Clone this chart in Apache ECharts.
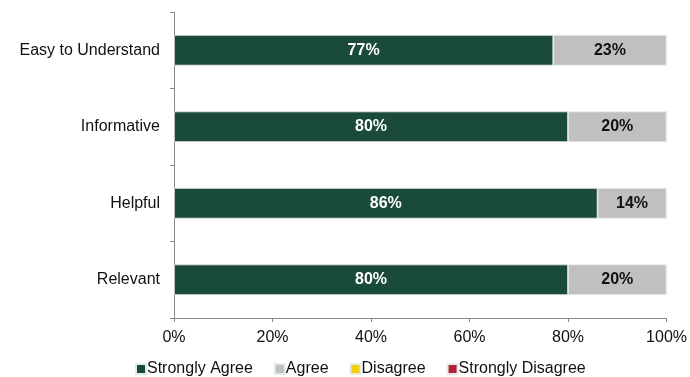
<!DOCTYPE html>
<html><head><meta charset="utf-8">
<script src="https://cdn.jsdelivr.net/npm/echarts@6/dist/echarts.min.js"></script>
<style>html,body{margin:0;padding:0;background:#fff}#c{width:690px;height:377px}</style>
</head><body><div id="c"></div>
<script>
const categories = ["Easy to Understand", "Informative", "Helpful", "Relevant"];
const seriesNames = ["Strongly Agree", "Agree", "Disagree", "Strongly Disagree"];
const stronglyAgree = [77, 80, 86, 80];
const agree = [23, 20, 14, 20];
const disagree = [0, 0, 0, 0];
const stronglyDisagree = [0, 0, 0, 0];
const xTicks = [0, 20, 40, 60, 80, 100];

const colors = ["#1a4a38", "#c0c0c0", "#f2d00f", "#b3223b"];
const labelColors = ["#ffffff", "#111111", "#111111", "#ffffff"];
const values = [stronglyAgree, agree, disagree, stronglyDisagree];

const chart = echarts.init(document.getElementById('c'));
chart.setOption({
  animation: false,
  textStyle: { fontFamily: "Liberation Sans, Arial, sans-serif" },
  grid: { left: 174, right: 22, top: 12, bottom: 59 },
  legend: {
    top: 356, left: 130, itemWidth: 10, itemHeight: 10, itemGap: 21,
    icon: 'rect',
    textStyle: { fontSize: 16, color: '#111', padding: [0, 0, 0, -4] },
    data: seriesNames
  },
  xAxis: {
    type: 'value', min: 0, max: 100, interval: 20,
    axisLine: { show: true, lineStyle: { color: '#888' } },
    axisTick: { show: true, length: 4, lineStyle: { color: '#888' } },
    splitLine: { show: false },
    axisLabel: { formatter: v => xTicks.includes(v) ? v + '%' : '', fontSize: 16, color: '#111', margin: 12 }
  },
  yAxis: {
    type: 'category', inverse: true, data: categories,
    axisLine: { show: true, lineStyle: { color: '#888' } },
    axisTick: { show: true, length: 4, lineStyle: { color: '#888' } },
    axisLabel: { fontSize: 16, color: '#111', margin: 14 }
  },
  series: seriesNames.map((n, i) => ({
    name: n, type: 'bar', stack: 'total', barWidth: '40%',
    data: values[i],
    itemStyle: { color: colors[i], borderColor: '#e4ece8', borderWidth: 0.8 },
    label: {
      show: true, position: 'inside', fontSize: 16, fontWeight: 'bold', color: labelColors[i],
      formatter: p => p.value > 0 ? p.value + '%' : ''
    }
  }))
});
</script></body></html>
